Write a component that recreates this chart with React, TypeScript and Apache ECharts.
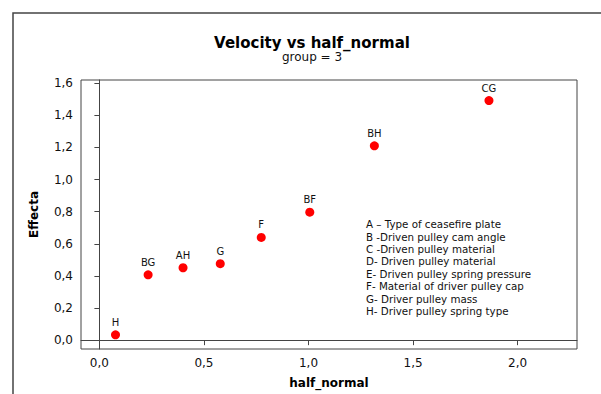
import React, { useEffect, useRef } from "react";
import * as echarts from "echarts";

const labels = ["H", "BG", "AH", "G", "F", "BF", "BH", "CG"];
const halfNormal = [0.077, 0.233, 0.4, 0.578, 0.774, 1.006, 1.315, 1.863];
const effecta = [0.033, 0.407, 0.451, 0.476, 0.64, 0.797, 1.21, 1.492];
const yTicks = [0, 0.2, 0.4, 0.6, 0.8, 1.0, 1.2, 1.4, 1.6];
const xTicks = [0, 0.5, 1.0, 1.5, 2.0];
const legendLines = [
  "A \u2013 Type of ceasefire plate",
  "B -Driven pulley cam angle",
  "C -Driven pulley material",
  "D- Driven pulley material",
  "E- Driven pulley spring pressure",
  "F- Material of driver pulley cap",
  "G- Driver pulley mass",
  "H- Driver pulley spring type",
];

const fmt = (v: number) => v.toFixed(1).replace(".", ",");
const FONT = "'DejaVu Sans', Verdana, sans-serif";

export default function App() {
  const ref = useRef<HTMLDivElement>(null);
  useEffect(() => {
    if (!ref.current) return;
    const chart = echarts.init(ref.current, undefined, { renderer: "svg" });
    chart.setOption({
      animation: false,
      backgroundColor: "#ffffff",
      title: {
        text: "Velocity vs half_normal",
        subtext: "group = 3",
        left: 307,
        textAlign: "center",
        top: 30,
        itemGap: 1,
        textStyle: { fontFamily: FONT, fontSize: 15, fontWeight: "bold", color: "#000" },
        subtextStyle: { fontFamily: FONT, fontSize: 12, color: "#111" },
      },
      grid: {
        left: 81,
        top: 80,
        right: 24,
        bottom: 41,
        show: true,
        borderColor: "#444",
        borderWidth: 1,
      },
      xAxis: {
        type: "value",
        min: -0.088,
        max: 2.284,
        name: "half_normal",
        nameLocation: "middle",
        nameGap: 28,
        nameTextStyle: { fontFamily: FONT, fontSize: 12, fontWeight: "bold", color: "#000" },
        splitLine: { show: false },
        axisLine: { show: true, lineStyle: { color: "#444" } },
        axisTick: { show: true, length: 5, customValues: xTicks, lineStyle: { color: "#444" } },
        axisLabel: {
          customValues: xTicks,
          formatter: fmt,
          margin: 8,
          fontFamily: FONT,
          fontSize: 12,
          color: "#111",
        },
      },
      yAxis: {
        type: "value",
        min: -0.055,
        max: 1.62,
        name: "Effecta",
        nameLocation: "middle",
        nameGap: 41,
        nameRotate: 90,
        nameTextStyle: { fontFamily: FONT, fontSize: 12, fontWeight: "bold", color: "#000" },
        splitLine: { show: false },
        axisLine: { show: true, lineStyle: { color: "#444" } },
        axisTick: { show: true, length: 5, customValues: yTicks, lineStyle: { color: "#444" } },
        axisLabel: {
          customValues: yTicks,
          formatter: fmt,
          margin: 8,
          fontFamily: FONT,
          fontSize: 12,
          color: "#111",
        },
      },
      series: [
        {
          type: "scatter",
          symbol: "circle",
          symbolSize: 9,
          itemStyle: { color: "#ff0000", opacity: 1 },
          data: halfNormal.map((x, i) => ({ value: [x, effecta[i]], name: labels[i] })),
          label: {
            show: true,
            position: "top",
            distance: 3,
            formatter: (p: any) => p.name,
            fontFamily: FONT,
            fontSize: 10,
            color: "#111",
          },
        },
      ],
      graphic: [
        {
          type: "rect",
          shape: { x: 13, y: 13, width: 700, height: 500 },
          style: { fill: "none", stroke: "#444", lineWidth: 1.5 },
          silent: true,
        },
        {
          type: "text",
          left: 366,
          top: 218,
          style: {
            text: legendLines.join("\n"),
            fontFamily: FONT,
            fontSize: 10.3,
            lineHeight: 12.4,
            fill: "#111",
          },
        },
      ],
    });
    return () => chart.dispose();
  }, []);
  return (
    <div
      ref={ref}
      style={{ position: "absolute", left: 0, top: 0, width: 601, height: 394 }}
    />
  );
}
